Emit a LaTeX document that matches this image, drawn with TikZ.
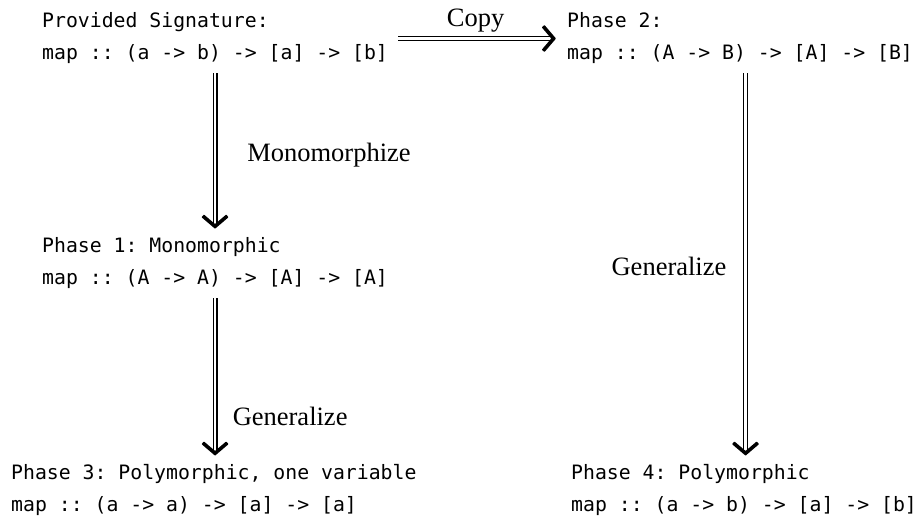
\documentclass[tikz,border=0pt]{standalone}
\usepackage{fontspec}
\setmainfont{Liberation Serif}
\newfontfamily\codefont{DejaVu Sans Mono}
\usetikzlibrary{decorations.markings,calc}

\tikzset{
  code/.style={font=\codefont\fontsize{19.8}{32}\selectfont\frenchspacing,
    align=left, inner sep=0pt, anchor=base west},
  lbl/.style={font=\fontsize{26.5}{30}\selectfont, inner sep=0pt},
  % double shaft ending in a solid chevron
  dblarrow/.style={draw=black, line width=1.4pt, double=white,
    double distance=2.2pt,
    decoration={markings, mark=at position 1 with {
      \fill[black, rounded corners=0.6pt]
        (3pt,0pt) -- (-8.5pt,13.5pt) -- (-11.24pt,11.17pt) -- (-1.73pt,0pt)
        -- (-11.24pt,-11.17pt) -- (-8.5pt,-13.5pt) -- cycle;}},
    postaction={decorate}}
}

\begin{document}
\begin{tikzpicture}[x=1pt,y=1pt]
  \fill[white] (0,0) rectangle (917,521);
  \useasboundingbox (0,0) rectangle (917,521);

  % signatures (anchored at the baseline of their last line)
  \node[code] (prov) at (42,461) {Provided Signature:\\map :: (a -> b) -> [a] -> [b]};
  \node[code] (p2) at (567,461) {Phase 2:\\map :: (A -> B) -> [A] -> [B]};
  \node[code] (p1) at (42,236) {Phase 1: Monomorphic\\map :: (A -> A) -> [A] -> [A]};
  \node[code] (p3) at (11,9) {Phase 3: Polymorphic, one variable\\map :: (a -> a) -> [a] -> [a]};
  \node[code] (p4) at (571,9) {Phase 4: Polymorphic\\map :: (a -> b) -> [a] -> [b]};

  % transformations
  \draw[dblarrow] ([xshift=10pt]prov.east) -- ([xshift=-14pt]p2.west)
    node[lbl, midway, anchor=base, yshift=12pt] (copy) {Copy};

  \draw[dblarrow] ($(p1.north |- prov.south)+(0,-9pt)$) -- ([yshift=12pt]p1.north)
    node[lbl, pos=0.58, anchor=base west, xshift=31.5pt] (mono) {Monomorphize};

  \draw[dblarrow] ([yshift=-9pt]p1.south) -- ($(p1.south |- p3.north)+(0,12pt)$)
    node[lbl, pos=0.825, anchor=base west, xshift=17pt] (genl) {Generalize};

  \draw[dblarrow] ($(p4.north |- p2.south)+(1.5pt,-9pt)$) -- ([xshift=1.5pt,yshift=12pt]p4.north)
    node[lbl, pos=0.533, anchor=base east, xshift=-18.5pt] (genr) {Generalize};
\end{tikzpicture}
\end{document}
